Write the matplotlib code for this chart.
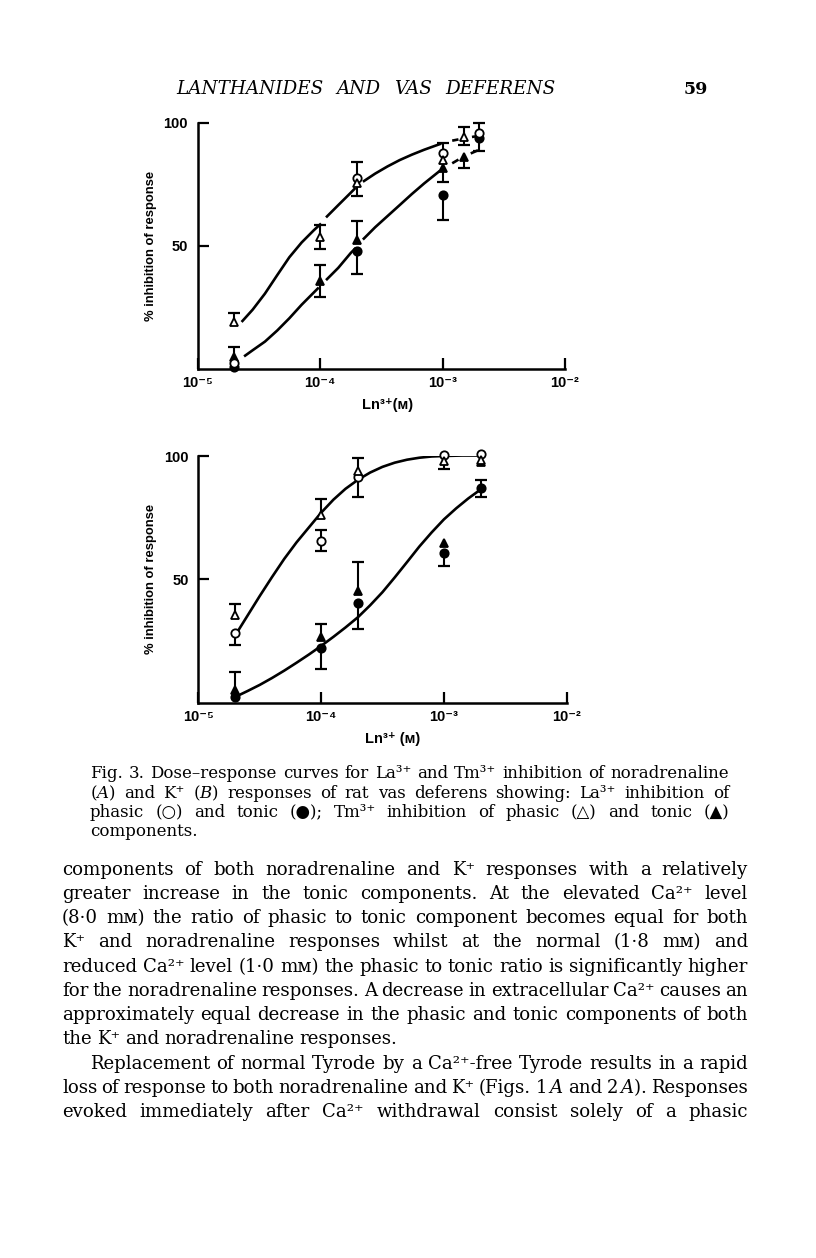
import numpy as np
import matplotlib
matplotlib.use('Agg')
import matplotlib.pyplot as plt
from matplotlib.ticker import NullLocator

# ---- data ---------------------------------------------------------------
x_ticks = [1e-5, 1e-4, 1e-3, 1e-2]
x_tick_labels = ['10\u207b\u2075', '10\u207b\u2074', '10\u207b\u00b3', '10\u207b\u00b2']
y_ticks = [50, 100]

# panel A (noradrenaline)
a_la_phasic_x = [2e-5, 2e-4, 1e-3, 2e-3]
a_la_phasic_y = [2.4, 77.6, 87.8, 95.7]
a_la_phasic_lo = [0, 0, 0, 0]
a_la_phasic_hi = [0, 6.3, 4.1, 4.1]

a_tm_phasic_x = [2e-5, 1e-4, 2e-4, 1e-3, 1.5e-3]
a_tm_phasic_y = [19.1, 53.7, 75.4, 84.8, 94.3]
a_tm_phasic_lo = [0, 5.0, 5.1, 0, 3.4]
a_tm_phasic_hi = [3.4, 4.7, 0, 0, 3.8]

a_la_tonic_x = [2e-5, 2e-4, 1e-3, 2e-3]
a_la_tonic_y = [0.8, 47.8, 70.6, 93.7]
a_la_tonic_lo = [0, 9.3, 10.2, 5.1]
a_la_tonic_hi = [0, 0, 0, 0]

a_tm_tonic_x = [2e-5, 1e-4, 2e-4, 1e-3, 1.5e-3]
a_tm_tonic_y = [4.9, 35.8, 52.3, 81.7, 86.2]
a_tm_tonic_lo = [0, 6.5, 0, 5.7, 4.7]
a_tm_tonic_hi = [3.8, 6.4, 7.7, 0, 0]

# hand-drawn curves of panel A (nan = break in the pen line)
a_upper_x = [2.29e-5, 2.82e-5, 3.55e-5, 4.47e-5, 5.62e-5, 7.08e-5, 8.91e-5, 1.02e-4, np.nan,
             1.12e-4, 1.41e-4, 1.78e-4, 1.95e-4, np.nan,
             2.24e-4, 2.82e-4, 3.55e-4, 4.47e-4, 5.62e-4, 7.08e-4, 8.91e-4, 9.77e-4, np.nan,
             1.2e-3, 1.35e-3, np.nan, 1.74e-3, 1.95e-3]
a_upper_y = [19, 24, 30.5, 38, 45.3, 51.3, 56.3, 59, np.nan,
             61.5, 66.5, 71.5, 73.5, np.nan,
             76, 79.3, 82.2, 84.8, 87, 89, 90.8, 91.5, np.nan,
             92.7, 93.2, np.nan, 94.2, 94.6]
a_lower_x = [2.4e-5, 2.82e-5, 3.55e-5, 4.47e-5, 5.62e-5, 7.08e-5, 8.91e-5, 9.77e-5, np.nan,
             1.12e-4, 1.41e-4, 1.78e-4, 1.95e-4, np.nan,
             2.24e-4, 2.82e-4, 3.55e-4, 4.47e-4, 5.62e-4, 7.08e-4, 8.91e-4, 9.55e-4, np.nan,
             1.2e-3, 1.35e-3, np.nan, 1.7e-3, 1.95e-3]
a_lower_y = [5, 7.5, 11, 15.5, 20.5, 26, 31, 33, np.nan,
             36, 41, 47, 49, np.nan,
             52.5, 57.5, 62, 66.5, 71, 75.3, 79.3, 80.5, np.nan,
             83.5, 85, np.nan, 87.5, 88.8]

# panel B (K+)
b_la_phasic_x = [2e-5, 1e-4, 2e-4, 1e-3, 2e-3]
b_la_phasic_y = [28.4, 65.7, 91.6, 100.4, 100.7]
b_la_phasic_lo = [5.0, 4.1, 8.1, 0, 0]
b_la_phasic_hi = [0, 4.3, 0, 0, 0]

b_tm_phasic_x = [2e-5, 1e-4, 2e-4, 1e-3, 2e-3]
b_tm_phasic_y = [35.6, 76.1, 94.0, 98.1, 98.5]
b_tm_phasic_lo = [0, 0, 0, 3.5, 0]
b_tm_phasic_hi = [4.4, 6.3, 5.3, 0, 0]

b_la_tonic_x = [2e-5, 1e-4, 2e-4, 1e-3, 2e-3]
b_la_tonic_y = [2.2, 22.1, 40.5, 60.6, 86.9]
b_la_tonic_lo = [0, 8.6, 10.7, 5.2, 3.6]
b_la_tonic_hi = [0, 0, 0, 0, 3.4]

b_tm_tonic_x = [2e-5, 1e-4, 2e-4, 1e-3, 2e-3]
b_tm_tonic_y = [5.1, 26.8, 45.4, 64.6, 97.7]
b_tm_tonic_lo = [0, 0, 0, 0, 0]
b_tm_tonic_hi = [7.5, 5.1, 11.5, 0, 0]

b_upper_x = [2.04e-5, 2.51e-5, 3.16e-5, 3.98e-5, 5.01e-5, 6.31e-5, 7.94e-5, 1e-4,
             1.26e-4, 1.58e-4, 2e-4, 2.51e-4, 3.16e-4, 3.98e-4, 5.01e-4, 6.31e-4,
             7.94e-4, 1e-3, 1.41e-3, 2e-3]
b_upper_y = [28, 35.2, 43.2, 50.9, 58.3, 65, 71, 77,
             82.3, 86.7, 90.4, 93.3, 95.6, 97.3, 98.5, 99.3,
             99.8, 100, 100.2, 100.2]
b_lower_x = [2.09e-5, 2.51e-5, 3.16e-5, 3.98e-5, 5.01e-5, 6.31e-5, 7.94e-5, 1e-4,
             1.26e-4, 1.58e-4, 2e-4, 2.51e-4, 3.16e-4, 3.98e-4, 5.01e-4, 6.31e-4,
             7.94e-4, 1e-3, 1.26e-3, 1.58e-3, 2e-3]
b_lower_y = [2.8, 4.7, 7.2, 10, 13, 16.2, 19.5, 23,
             26.7, 30.5, 34.7, 39.5, 44.8, 50.8, 57, 63.3,
             69, 74.3, 78.8, 82.8, 86.5]

header = 'LANTHANIDES AND VAS DEFERENS'
page_no = '59'
caption = [
    'Fig. 3.  Dose\u2013response curves for La\u00b3\u207a and Tm\u00b3\u207a inhibition of noradrenaline',
    '($A$) and K\u207a ($B$) responses of rat vas deferens showing: La\u00b3\u207a inhibition of',
    'phasic (\u25cb) and tonic (\u25cf); Tm\u00b3\u207a inhibition of phasic (\u25b3) and tonic (\u25b2)',
    'components.',
]
body = [
    'components of both noradrenaline and K\u207a responses with a relatively',
    'greater increase in the tonic components. At the elevated Ca\u00b2\u207a level',
    '(8\u00b70 m\u1d0d) the ratio of phasic to tonic component becomes equal for both',
    'K\u207a and noradrenaline responses whilst at the normal (1\u00b78 m\u1d0d) and',
    'reduced Ca\u00b2\u207a level (1\u00b70 m\u1d0d) the phasic to tonic ratio is significantly higher',
    'for the noradrenaline responses. A decrease in extracellular Ca\u00b2\u207a causes an',
    'approximately equal decrease in the phasic and tonic components of both',
    'the K\u207a and noradrenaline responses.',
    'Replacement of normal Tyrode by a Ca\u00b2\u207a-free Tyrode results in a rapid',
    'loss of response to both noradrenaline and K\u207a (Figs. 1$\\,A$ and 2$\\,A$). Responses',
    'evoked immediately after Ca\u00b2\u207a withdrawal consist solely of a phasic',
]

# ---- page setup ---------------------------------------------------------
W, H = 816, 1258
plt.rcParams['mathtext.fontset'] = 'dejavuserif'
fig = plt.figure(figsize=(W / 100, H / 100), dpi=100)
fig.patch.set_facecolor('white')


def fx(x):
    return x / W


def fy(y):
    return 1 - y / H


SANS = dict(family=['Liberation Sans', 'DejaVu Sans'], fontweight='bold')


def panel(box, series, curves, xlabel, xlabel_pos):
    left, top, right, bottom = box
    ax = fig.add_axes([fx(left), fy(bottom), (right - left) / W, (bottom - top) / H])
    ax.set_xscale('log')
    ax.set_xlim(1e-5, 1e-2)
    ax.set_ylim(0, 100)
    for s in ['top', 'right']:
        ax.spines[s].set_visible(False)
    for s in ['left', 'bottom']:
        ax.spines[s].set_linewidth(1.8)
    ax.set_xticks(x_ticks)
    ax.set_xticklabels(x_tick_labels, fontsize=10.5, **SANS)
    ax.xaxis.set_minor_locator(NullLocator())
    ax.set_yticks(y_ticks)
    ax.set_yticklabels([str(v) for v in y_ticks], fontsize=10.5, **SANS)
    ax.tick_params(axis='x', direction='in', length=8, width=1.6, pad=5)
    ax.tick_params(axis='y', direction='in', length=8, width=1.6, pad=7)

    for cx, cy in curves:
        ax.plot(cx, cy, color='k', lw=1.9, zorder=2, solid_capstyle='butt',
                solid_joinstyle='round')

    for x, y, lo, hi, mk, filled in series:
        x = np.asarray(x); y = np.asarray(y)
        lo = np.asarray(lo); hi = np.asarray(hi)
        ax.vlines(x, y - lo, y + hi, color='k', lw=1.5, zorder=3, clip_on=False)
        top_m = hi > 0
        bot_m = lo > 0
        ax.plot(x[top_m], (y + hi)[top_m], ls='none', marker='_', ms=8, mew=1.6,
                color='k', zorder=3, clip_on=False)
        ax.plot(x[bot_m], (y - lo)[bot_m], ls='none', marker='_', ms=8, mew=1.6,
                color='k', zorder=3, clip_on=False)
        ax.plot(x, y, ls='none', marker=mk, ms=6.4 if mk == '^' else 6.0,
                mfc='k' if filled else 'white', mec='k', mew=1.3,
                zorder=4, clip_on=False)

    cy = (top + bottom) / 2
    fig.text(fx(151), fy(cy), '% inhibition of response', rotation=90,
             ha='center', va='center', fontsize=9.4, **SANS)
    fig.text(fx(xlabel_pos[0]), fy(xlabel_pos[1]), xlabel, ha='center', va='center',
             fontsize=10.5, **SANS)
    return ax


panel((197.5, 122.7, 565, 368.7),
      [(a_la_tonic_x, a_la_tonic_y, a_la_tonic_lo, a_la_tonic_hi, 'o', True),
       (a_tm_tonic_x, a_tm_tonic_y, a_tm_tonic_lo, a_tm_tonic_hi, '^', True),
       (a_la_phasic_x, a_la_phasic_y, a_la_phasic_lo, a_la_phasic_hi, 'o', False),
       (a_tm_phasic_x, a_tm_phasic_y, a_tm_phasic_lo, a_tm_phasic_hi, '^', False)],
      [(a_upper_x, a_upper_y), (a_lower_x, a_lower_y)],
      'Ln\u00b3\u207a(\u1d0d)', (388, 405))

panel((198.3, 456, 566.7, 702.7),
      [(b_la_tonic_x, b_la_tonic_y, b_la_tonic_lo, b_la_tonic_hi, 'o', True),
       (b_tm_tonic_x, b_tm_tonic_y, b_tm_tonic_lo, b_tm_tonic_hi, '^', True),
       (b_la_phasic_x, b_la_phasic_y, b_la_phasic_lo, b_la_phasic_hi, 'o', False),
       (b_tm_phasic_x, b_tm_phasic_y, b_tm_phasic_lo, b_tm_phasic_hi, '^', False)],
      [(b_upper_x, b_upper_y), (b_lower_x, b_lower_y)],
      'Ln\u00b3\u207a (\u1d0d)', (393, 739))


# ---- justified text blocks ----------------------------------------------
renderer = fig.canvas.get_renderer()


def text_block(lines, x0s, x1, baselines, base, justify, min_gap=0.22, **kw):
    groups = []
    for s, x0, yb in zip(lines, x0s, baselines):
        groups.append([fig.text(fx(x0), fy(yb), w, fontsize=base, va='baseline',
                                ha='left', **kw) for w in s.split(' ') if w])
    em = base * 100 / 72
    scale = 1.0
    for ts, j, x0 in zip(groups, justify, x0s):
        if not j or len(ts) < 2:
            continue
        wsum = sum(t.get_window_extent(renderer).width for t in ts)
        scale = min(scale, (x1 - x0) / (wsum + min_gap * em * (len(ts) - 1)))
    size = base * scale
    for ts, j, x0 in zip(groups, justify, x0s):
        for t in ts:
            t.set_fontsize(size)
        widths = [t.get_window_extent(renderer).width for t in ts]
        if j and len(ts) > 1:
            gap = (x1 - x0 - sum(widths)) / (len(ts) - 1)
        else:
            gap = 0.28 * size * 100 / 72
        x = x0
        for t, w in zip(ts, widths):
            t.set_x(fx(x))
            x += w + gap


serif = ['DejaVu Serif', 'DejaVu Sans']

text_block([header], [176], 556, [94], 16, [True], min_gap=0.7,
           family=serif, style='italic')
fig.text(fx(708), fy(94), page_no, ha='right', va='baseline', fontsize=12.5,
         family=serif, fontweight='bold')

text_block(caption, [90] * 4, 729, [778, 798, 817, 836], 12,
           [True, True, True, False], family=serif)

body_x0 = [62] * 8 + [90] + [62] * 2
body_base = [875, 899, 923, 947, 972, 996, 1020, 1044, 1069, 1093, 1117]
body_just = [True] * 7 + [False] + [True] * 3
text_block(body, body_x0, 748, body_base, 14, body_just, family=serif)

fig.savefig('out.png', dpi=100, facecolor='white')
